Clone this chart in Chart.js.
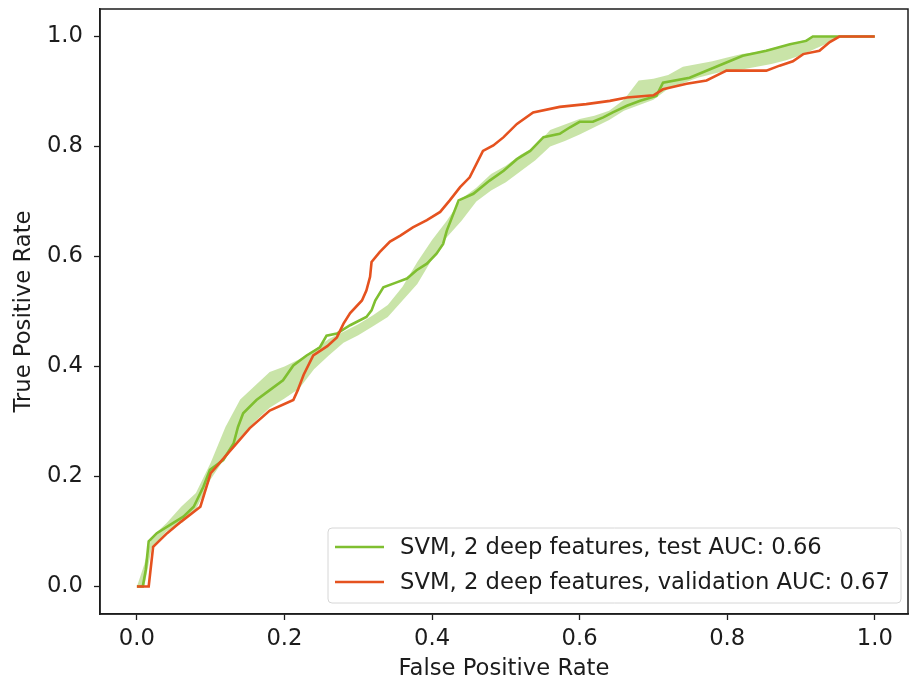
<!DOCTYPE html>
<html>
<head>
<meta charset="utf-8">
<script src="https://cdn.jsdelivr.net/npm/chart.js@4.4.1/dist/chart.umd.min.js"></script>
<style>
  html, body { margin: 0; padding: 0; background: #fff; }
  #wrap { width: 910px; height: 683px; }
</style>
</head>
<body>
<div id="wrap"><canvas id="rocChart" width="910" height="683"></canvas></div>
<script>
// validation ROC (orange)
const validFpr = [0, 0.016, 0.022, 0.041, 0.06, 0.086, 0.10, 0.131, 0.153, 0.18, 0.212, 0.218, 0.226, 0.239, 0.258, 0.271, 0.28, 0.289, 0.305, 0.311, 0.316, 0.318, 0.329, 0.343, 0.357, 0.374, 0.393, 0.411, 0.424, 0.438, 0.451, 0.469, 0.483, 0.497, 0.515, 0.537, 0.573, 0.609, 0.641, 0.664, 0.70, 0.713, 0.745, 0.772, 0.79, 0.799, 0.853, 0.871, 0.889, 0.903, 0.925, 0.939, 0.952, 1.0];
const validTpr = [0, 0, 0.072, 0.097, 0.118, 0.145, 0.206, 0.254, 0.288, 0.32, 0.339, 0.357, 0.385, 0.42, 0.437, 0.453, 0.478, 0.497, 0.52, 0.538, 0.563, 0.59, 0.608, 0.627, 0.638, 0.653, 0.666, 0.681, 0.702, 0.726, 0.744, 0.792, 0.802, 0.817, 0.841, 0.862, 0.872, 0.877, 0.883, 0.889, 0.893, 0.904, 0.914, 0.92, 0.932, 0.938, 0.938, 0.947, 0.955, 0.968, 0.974, 0.99, 1.0, 1.0];

// test ROC (green)
const testFpr = [0, 0.008, 0.012, 0.016, 0.027, 0.045, 0.063, 0.077, 0.09, 0.099, 0.117, 0.131, 0.137, 0.144, 0.162, 0.18, 0.198, 0.212, 0.23, 0.248, 0.257, 0.271, 0.289, 0.311, 0.318, 0.323, 0.334, 0.352, 0.366, 0.379, 0.393, 0.406, 0.415, 0.42, 0.429, 0.436, 0.456, 0.478, 0.497, 0.515, 0.533, 0.551, 0.573, 0.587, 0.6, 0.618, 0.632, 0.645, 0.664, 0.682, 0.704, 0.713, 0.749, 0.794, 0.821, 0.853, 0.885, 0.907, 0.916, 1.0];
const testTpr = [0, 0, 0.03, 0.082, 0.097, 0.112, 0.127, 0.145, 0.181, 0.212, 0.23, 0.26, 0.29, 0.315, 0.339, 0.357, 0.375, 0.402, 0.42, 0.435, 0.456, 0.46, 0.475, 0.49, 0.502, 0.52, 0.544, 0.553, 0.56, 0.575, 0.587, 0.605, 0.623, 0.647, 0.678, 0.702, 0.714, 0.738, 0.756, 0.777, 0.792, 0.817, 0.823, 0.835, 0.845, 0.845, 0.853, 0.862, 0.874, 0.883, 0.892, 0.916, 0.925, 0.95, 0.965, 0.974, 0.986, 0.992, 1.0, 1.0];

// shaded band around the test curve
const bandFpr  = [0, 0.01, 0.02, 0.04, 0.06, 0.08, 0.10, 0.12, 0.14, 0.16, 0.18, 0.20, 0.22, 0.24, 0.26, 0.28, 0.30, 0.32, 0.34, 0.36, 0.38, 0.40, 0.42, 0.44, 0.46, 0.48, 0.50, 0.52, 0.54, 0.56, 0.58, 0.60, 0.62, 0.64, 0.66, 0.68, 0.70, 0.72, 0.74, 0.76, 0.78, 0.80, 0.82, 0.84, 0.86, 0.88, 0.90, 0.92, 0.94, 0.95];
const bandLow  = [0, 0, 0.07, 0.10, 0.115, 0.14, 0.195, 0.235, 0.27, 0.30, 0.325, 0.342, 0.36, 0.395, 0.42, 0.443, 0.457, 0.473, 0.49, 0.52, 0.55, 0.595, 0.635, 0.665, 0.70, 0.72, 0.735, 0.755, 0.775, 0.80, 0.81, 0.822, 0.835, 0.848, 0.865, 0.875, 0.885, 0.905, 0.915, 0.925, 0.932, 0.938, 0.94, 0.945, 0.95, 0.957, 0.966, 0.978, 0.99, 1.0];
const bandHigh = [0, 0.04, 0.09, 0.115, 0.145, 0.17, 0.225, 0.29, 0.34, 0.365, 0.39, 0.40, 0.413, 0.43, 0.45, 0.463, 0.477, 0.493, 0.512, 0.545, 0.59, 0.63, 0.665, 0.705, 0.725, 0.75, 0.765, 0.785, 0.80, 0.83, 0.84, 0.85, 0.856, 0.865, 0.885, 0.92, 0.923, 0.93, 0.945, 0.95, 0.955, 0.962, 0.968, 0.972, 0.978, 0.985, 0.992, 1.0, 1.0, 1.0];

const tickValues = [0, 0.2, 0.4, 0.6, 0.8, 1.0];
const testLabel = 'SVM, 2 deep features, test AUC: 0.66';
const validLabel = 'SVM, 2 deep features, validation AUC: 0.67';

const GREEN = '#7fbf30';
const ORANGE = '#e5521f';
const FONT = 'DejaVu Sans';
const TEXT = '#1c1c1c';

const pts = (xs, ys) => xs.map((x, i) => ({ x: x, y: ys[i] }));

// frame on all four sides + legend box in the lower right
const framePlugin = {
  id: 'frame',
  afterDraw(chart) {
    const { ctx, chartArea: a } = chart;
    ctx.save();
    ctx.strokeStyle = '#1c1c1c';
    ctx.lineWidth = 1.5;
    ctx.strokeRect(a.left, a.top, a.right - a.left, a.bottom - a.top);

    const items = chart.data.datasets.filter(d => d.inLegend);
    items.reverse();
    const bx = 328, by = 528, bw = 573, bh = 75;
    ctx.beginPath();
    ctx.roundRect(bx, by, bw, bh, 4);
    ctx.fillStyle = 'rgba(255,255,255,0.85)';
    ctx.fill();
    ctx.strokeStyle = '#d6d6d6';
    ctx.lineWidth = 1;
    ctx.stroke();
    ctx.font = '22.7px "' + FONT + '"';
    ctx.textBaseline = 'middle';
    items.forEach((d, i) => {
      const cy = by + 19 + i * 35;
      ctx.strokeStyle = d.borderColor;
      ctx.lineWidth = 2.6;
      ctx.beginPath();
      ctx.moveTo(335, cy);
      ctx.lineTo(384, cy);
      ctx.stroke();
      ctx.fillStyle = TEXT;
      ctx.fillText(d.label, 400, cy + 1);
    });
    ctx.restore();
  }
};

new Chart(document.getElementById('rocChart'), {
  type: 'line',
  data: {
    datasets: [
      {
        label: validLabel,
        inLegend: true,
        data: pts(validFpr, validTpr),
        borderColor: ORANGE,
        borderWidth: 2.6,
        pointRadius: 0,
        fill: false
      },
      {
        label: testLabel,
        inLegend: true,
        data: pts(testFpr, testTpr),
        borderColor: GREEN,
        borderWidth: 2.6,
        pointRadius: 0,
        fill: false
      },
      {
        label: 'band high',
        data: pts(bandFpr, bandHigh),
        borderColor: 'rgba(0,0,0,0)',
        borderWidth: 0,
        pointRadius: 0,
        backgroundColor: 'rgba(127,191,48,0.42)',
        fill: '+1'
      },
      {
        label: 'band low',
        data: pts(bandFpr, bandLow),
        borderColor: 'rgba(0,0,0,0)',
        borderWidth: 0,
        pointRadius: 0,
        fill: false
      }
    ]
  },
  options: {
    responsive: false,
    animation: false,
    layout: { padding: { top: 9, right: 2, left: 0, bottom: 0 } },
    plugins: {
      legend: { display: false },
      tooltip: { enabled: false }
    },
    scales: {
      x: {
        type: 'linear',
        min: -0.05,
        max: 1.045,
        afterFit: s => { s.height = 69; s.paddingLeft = 0; s.paddingRight = 0; },
        afterBuildTicks: s => { s.ticks = tickValues.map(v => ({ value: v })); },
        border: { display: true, color: '#1c1c1c', width: 1.5 },
        grid: { drawOnChartArea: false, drawTicks: true, tickLength: 6, color: '#1c1c1c', tickWidth: 1.3 },
        ticks: {
          color: TEXT, padding: 5,
          font: { family: FONT, size: 22.7 },
          callback: v => v.toFixed(1)
        },
        title: {
          display: true, text: 'False Positive Rate', color: TEXT,
          font: { family: FONT, size: 22.7 }, padding: { top: 0, bottom: 0 }
        }
      },
      y: {
        type: 'linear',
        min: -0.05,
        max: 1.05,
        afterFit: s => { s.width = 100; s.paddingTop = 0; s.paddingBottom = 0; },
        afterBuildTicks: s => { s.ticks = tickValues.map(v => ({ value: v })); },
        border: { display: true, color: '#1c1c1c', width: 1.5 },
        grid: { drawOnChartArea: false, drawTicks: true, tickLength: 6, color: '#1c1c1c', tickWidth: 1.3 },
        ticks: {
          color: TEXT, padding: 11,
          font: { family: FONT, size: 22.7 },
          callback: v => v.toFixed(1)
        },
        title: {
          display: true, text: 'True Positive Rate', color: TEXT,
          font: { family: FONT, size: 22.7 }, padding: { top: 10, bottom: 0 }
        }
      }
    }
  },
  plugins: [framePlugin]
});
</script>
</body>
</html>
